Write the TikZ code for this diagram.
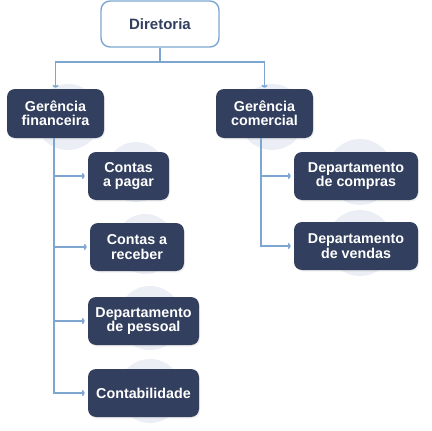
\documentclass[tikz,border=0pt]{standalone}
\usepackage{fontspec}
\setmainfont{Liberation Sans}
\usetikzlibrary{arrows.meta,shadows}
\definecolor{navy}{HTML}{323F5E}
\definecolor{lineblue}{HTML}{7DA7D1}
\definecolor{blob}{HTML}{EBEEF5}
\tikzset{
  dark/.style={fill=navy, text=white, rounded corners=8pt, align=center,
    font=\bfseries\fontsize{14.3}{14.3}\selectfont, inner sep=0pt,
    drop shadow={opacity=0.12, shadow xshift=1pt, shadow yshift=-1.5pt}},
  topbox/.style={fill=white, draw=lineblue, line width=1.4pt, text=navy, rounded corners=9pt,
    font=\bfseries\fontsize{15}{15}\selectfont, inner sep=0pt},
  conn/.style={draw=lineblue, line width=1.6pt, -{To[length=3pt,width=6pt]}},
  plain/.style={draw=lineblue, line width=1.6pt},
  blobc/.style={fill=blob}
}
\begin{document}
\begin{tikzpicture}[x=1pt,y=-1pt]
\useasboundingbox (0,0) rectangle (432,431);
% background blobs
\fill[blobc] (68,117) circle (33);
\fill[blobc] (272,117) circle (33);
\fill[blobc] (136,172) circle (30);
\fill[blobc] (145,244) circle (30);
\fill[blobc] (150,318) circle (32);
\fill[blobc] (150,391) circle (32);
\fill[blobc] (360,172) circle (33);
\fill[blobc] (360,243) circle (33);
% nodes
\node[topbox, minimum width=118pt, minimum height=46pt] (dir) at (160,24) {Diretoria};
\node[dark, minimum width=97pt, minimum height=49pt] (gf) at (55.5,113.5) {Gerência\\financeira};
\node[dark, minimum width=97pt, minimum height=49pt] (gc) at (264.5,113.5) {Gerência\\comercial};
\node[dark, minimum width=81pt, minimum height=48pt] (cp) at (128.5,176) {Contas\\a pagar};
\node[dark, minimum width=94pt, minimum height=48pt] (cr) at (137,247) {Contas a\\receber};
\node[dark, minimum width=111pt, minimum height=48pt] (dp) at (143.5,321) {Departamento\\de pessoal};
\node[dark, minimum width=111pt, minimum height=48pt] (ct) at (143.5,393) {Contabilidade};
\node[dark, minimum width=124pt, minimum height=48pt] (dc) at (356,176) {Departamento\\de compras};
\node[dark, minimum width=124pt, minimum height=48pt] (dv) at (356,246) {Departamento\\de vendas};
% connectors
\coordinate (jn) at (160,62);
\draw[plain] (dir.south) -- (jn);
\draw[conn, shorten >=1pt] (jn) -| (gf.north);
\draw[conn, shorten >=1pt] (jn) -| (gc.north);
\coordinate (lx) at (54,138);
\coordinate (rx) at (261,138);
\draw[plain] (lx) -- (lx |- ct.west);
\draw[conn, shorten >=3pt] (lx) |- (cp.west);
\draw[conn, shorten >=3pt] (lx) |- (cr.west);
\draw[conn, shorten >=3pt] (lx) |- (dp.west);
\draw[conn, shorten >=3pt] (lx) |- (ct.west);
\draw[plain] (rx) -- (rx |- dv.west);
\draw[conn, shorten >=3pt] (rx) |- (dc.west);
\draw[conn, shorten >=3pt] (rx) |- (dv.west);
\end{tikzpicture}
\end{document}
